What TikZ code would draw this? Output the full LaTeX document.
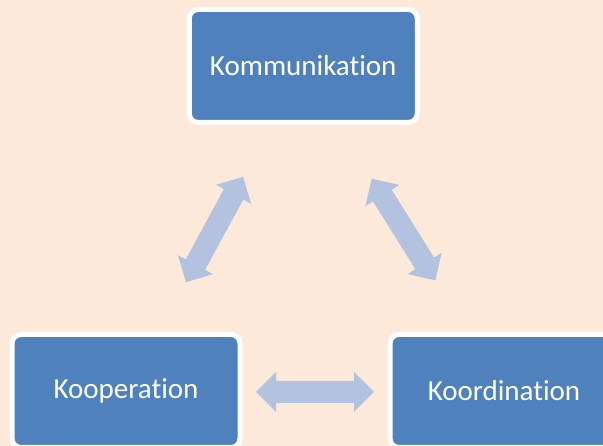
\documentclass[tikz,border=0pt]{standalone}
\usepackage{fontspec}
\setmainfont{Carlito}[Ligatures={NoCommon}]
\definecolor{bgpeach}{HTML}{FDE9D9}
\definecolor{boxblue}{HTML}{4F81BD}
\definecolor{arrowblue}{HTML}{B3C3DF}
\tikzset{
  box/.style={draw=white, line width=5pt, fill=boxblue, rounded corners=9pt,
    minimum width=228pt, minimum height=113pt, inner sep=0pt,
    text=white, font=\fontsize{29}{34}\selectfont},
  pics/dblarrow/.style n args={2}{code={
    \fill[arrowblue, rotate=#1]
      (-#2,0) -- ({-#2+20},20) -- ({-#2+20},11) -- ({#2-20},11) -- ({#2-20},20)
      -- (#2,0) -- ({#2-20},-20) -- ({#2-20},-11) -- ({-#2+20},-11) -- ({-#2+20},-20) -- cycle;
  }}
}
\begin{document}
\begin{tikzpicture}[x=1pt,y=1pt]
  \fill[bgpeach] (0,0) rectangle (603,446);
  \useasboundingbox (0,0) rectangle (603,446);
  \begin{scope}
    \clip (0,0) rectangle (603,446);
    \node[box] (komm) at (303.25,380) {Kommunikation};
    \node[box] (koop) at (126,55) {Kooperation};
    \node[box] (koord) at (504,55) {Koordination};
  \end{scope}
  \pic (arrowleft) at (214.5,216.5) {dblarrow={61.5}{60}};
  \pic (arrowright) at (403.5,216.5) {dblarrow={122}{60}};
  \pic (arrowbottom) at (315,54) {dblarrow={0}{59}};
\end{tikzpicture}
\end{document}
